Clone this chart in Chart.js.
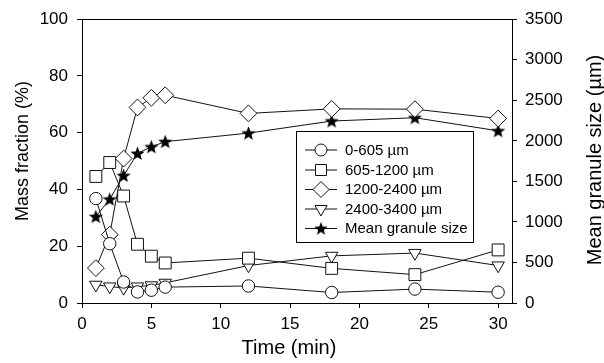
<!DOCTYPE html>
<html>
<head>
<meta charset="utf-8">
<script src="https://cdn.jsdelivr.net/npm/chart.js@4.4.0/dist/chart.umd.min.js"></script>
<style>
  body { margin: 0; background: #fff; }
</style>
</head>
<body>
<canvas id="granuleChart" width="604" height="363"></canvas>
<script>
// granulation time (min)
const timeMin = [1, 2, 3, 4, 5, 6, 12, 18, 24, 30];

// mass fraction (%) per size class
const frac0605 = [36.8, 20.9, 7.4, 3.9, 4.5, 5.6, 6.0, 3.7, 4.9, 3.8];
const frac6051200 = [44.6, 49.5, 37.7, 20.7, 16.5, 14.1, 15.8, 12.2, 10.0, 18.7];
const frac12002400 = [12.3, 24.1, 50.9, 68.9, 72.3, 73.2, 66.8, 68.4, 68.3, 65.0];
const frac24003400 = [6.4, 5.8, 5.3, 5.8, 6.2, 7.1, 13.2, 16.6, 17.6, 13.2];

// mean granule size (µm), right axis
const meanSize = [1066, 1280, 1571, 1845, 1926, 1990, 2095, 2244, 2285, 2123];

const seriesLabels = ['0-605 µm', '605-1200 µm', '1200-2400 µm', '2400-3400 µm', 'Mean granule size'];

const xTicks = [0, 5, 10, 15, 20, 25, 30];
const leftTicks = [0, 20, 40, 60, 80, 100];
const rightTicks = [0, 500, 1000, 1500, 2000, 2500, 3000, 3500];

const FONT = 'Liberation Sans';
const INK = '#111';

// filled five-point star used as a point style
function makeStar(r) {
    const size = Math.ceil(r * 2 + 2);
    const c = document.createElement('canvas');
    c.width = size;
    c.height = size;
    const g = c.getContext('2d');
    const cx = size / 2, cy = size / 2 + 0.5;
    g.beginPath();
    for (let k = 0; k < 10; k++) {
        const rad = k % 2 === 0 ? r : r * 0.42;
        const a = -Math.PI / 2 + k * Math.PI / 5;
        g.lineTo(cx + rad * Math.cos(a), cy + rad * Math.sin(a));
    }
    g.closePath();
    g.fillStyle = '#000';
    g.fill();
    return c;
}
const starPoint = makeStar(7.5);
const starLegend = makeStar(7);

function toXY(values) {
    return timeMin.map((t, i) => ({ x: t, y: values[i] }));
}

function series(label, values, style, radius, axis, fill, rotation) {
    return {
        label: label,
        data: toXY(values),
        yAxisID: axis,
        borderColor: INK,
        borderWidth: 1,
        pointStyle: style,
        pointRadius: radius,
        pointHoverRadius: radius,
        pointRotation: rotation || 0,
        pointBackgroundColor: fill,
        pointBorderColor: INK,
        pointBorderWidth: 1,
        tension: 0,
        fill: false
    };
}

const datasets = [
    series(seriesLabels[0], frac0605, 'circle', 6.2, 'y', '#fff'),
    series(seriesLabels[1], frac6051200, 'rect', 8.4, 'y', '#fff'),
    series(seriesLabels[2], frac12002400, 'rectRot', 8.4, 'y', '#fff'),
    series(seriesLabels[3], frac24003400, 'triangle', 7.2, 'y', '#fff', 180),
    series(seriesLabels[4], meanSize, starPoint, 7.5, 'y2', '#000')
];

function rotatedText(ctx, text, x, y, size) {
    ctx.save();
    ctx.translate(x, y);
    ctx.rotate(-Math.PI / 2);
    ctx.font = size + 'px "' + FONT + '"';
    ctx.fillStyle = '#000';
    ctx.textAlign = 'center';
    ctx.textBaseline = 'middle';
    ctx.fillText(text, 0, 0);
    ctx.restore();
}

// plot frame top, axis titles and the boxed legend
const frameLegend = {
    id: 'frameLegend',
    afterDatasetsDraw(chart) {
        const ctx = chart.ctx;
        const area = chart.chartArea;
        ctx.save();
        ctx.strokeStyle = '#000';
        ctx.lineWidth = 1;
        ctx.beginPath();
        ctx.moveTo(area.left, Math.round(area.top) + 0.5);
        ctx.lineTo(area.right, Math.round(area.top) + 0.5);
        ctx.stroke();

        rotatedText(ctx, 'Mass fraction (%)', 23, 151, 18);
        rotatedText(ctx, 'Mean granule size (µm)', 595, 160, 20);

        ctx.font = '20px "' + FONT + '"';
        ctx.fillStyle = '#000';
        ctx.textAlign = 'center';
        ctx.textBaseline = 'middle';
        ctx.fillText('Time (min)', 289, 348);

        const bx = 296.5, by = 131.5, bw = 177, bh = 111;
        ctx.fillStyle = '#fff';
        ctx.fillRect(bx, by, bw, bh);
        ctx.strokeRect(bx, by, bw, bh);

        const rowY = [150, 170, 189.5, 209, 228.5];
        const legendStyles = [
            { pointStyle: 'circle', radius: 6, rotation: 0 },
            { pointStyle: 'rect', radius: 7.8, rotation: 0 },
            { pointStyle: 'rectRot', radius: 8, rotation: 0 },
            { pointStyle: 'triangle', radius: 7, rotation: 180 },
            { pointStyle: starLegend, radius: 7, rotation: 0 }
        ];
        ctx.font = '15px "' + FONT + '"';
        ctx.textAlign = 'left';
        seriesLabels.forEach((label, i) => {
            const y = rowY[i];
            ctx.strokeStyle = INK;
            ctx.lineWidth = 1;
            ctx.beginPath();
            ctx.moveTo(305, y);
            ctx.lineTo(337, y);
            ctx.stroke();
            ctx.fillStyle = i === 4 ? '#000' : '#fff';
            ctx.strokeStyle = INK;
            Chart.helpers.drawPoint(ctx, Object.assign({ borderWidth: 1 }, legendStyles[i]), 321, y);
            ctx.fillStyle = '#000';
            ctx.fillText(label, 345, y + 0.5);
        });
        ctx.restore();
    }
};

const tickFont = { family: FONT, size: 17 };
const plainTick = v => String(v);

new Chart(document.getElementById('granuleChart'), {
    type: 'line',
    data: { datasets: datasets },
    options: {
        responsive: false,
        animation: false,
        devicePixelRatio: 1,
        layout: { padding: { top: 14, left: 0, right: 0, bottom: 0 } },
        plugins: {
            legend: { display: false },
            tooltip: { enabled: false }
        },
        scales: {
            x: {
                type: 'linear',
                min: 0,
                max: 31,
                afterBuildTicks: s => { s.ticks = xTicks.map(v => ({ value: v })); },
                afterFit: s => { s.height = 60; },
                ticks: { font: tickFont, color: '#000', padding: 6, maxRotation: 0, callback: plainTick },
                grid: { drawOnChartArea: false, color: '#000', tickLength: 5 },
                border: { color: '#000' }
            },
            y: {
                type: 'linear',
                position: 'left',
                min: 0,
                max: 100,
                afterBuildTicks: s => { s.ticks = leftTicks.map(v => ({ value: v })); },
                afterFit: s => { s.width = 82; },
                ticks: { font: tickFont, color: '#000', padding: 9, callback: plainTick },
                grid: { drawOnChartArea: false, color: '#000', tickLength: 5 },
                border: { color: '#000' }
            },
            y2: {
                type: 'linear',
                position: 'right',
                min: 0,
                max: 3500,
                afterBuildTicks: s => { s.ticks = rightTicks.map(v => ({ value: v })); },
                afterFit: s => { s.width = 92; },
                ticks: { font: tickFont, color: '#000', padding: 8, callback: plainTick },
                grid: { drawOnChartArea: false, color: '#000', tickLength: 5 },
                border: { color: '#000' }
            }
        }
    },
    plugins: [frameLegend]
});
</script>
</body>
</html>
